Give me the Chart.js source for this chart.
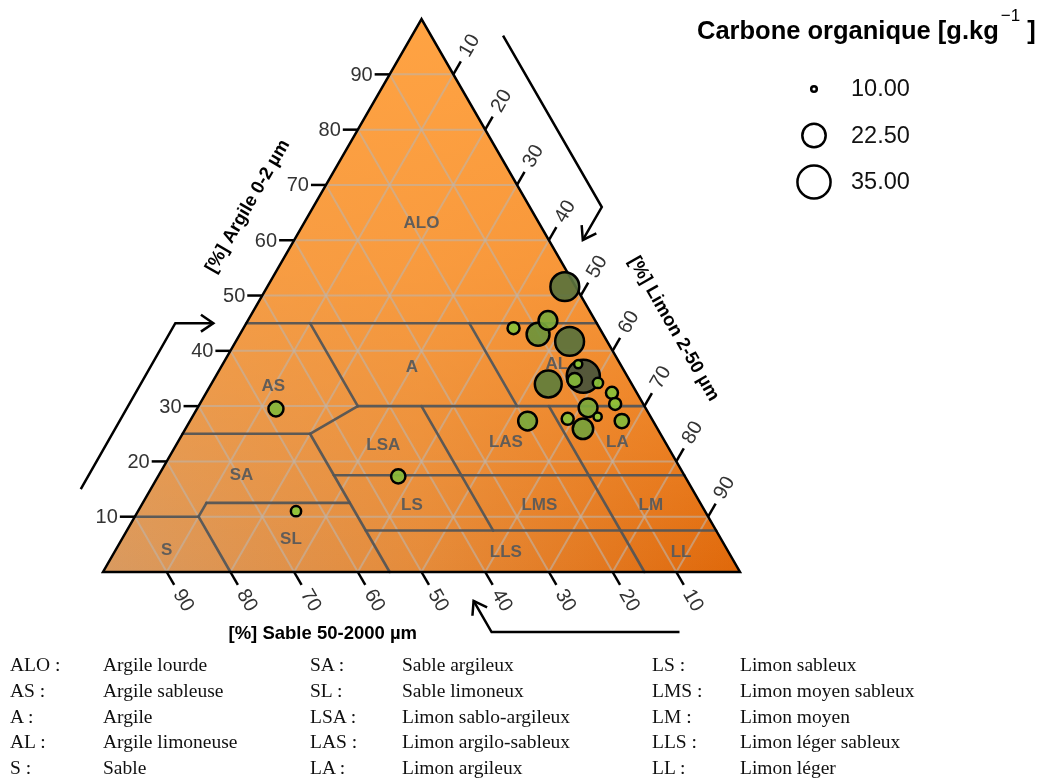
<!DOCTYPE html>
<html>
<head>
<meta charset="utf-8">
<script src="https://cdn.jsdelivr.net/npm/chart.js@4.4.1/dist/chart.umd.min.js"></script>
<style>
  body { margin: 0; background: #fff; }
  #wrap { position: absolute; left: 0; top: 0; width: 1057px; height: 650px; }
  #codes { position: absolute; left: 0; top: 0; width: 1057px; height: 781px; pointer-events: none;
           font-family: 'Liberation Serif', 'Times New Roman', serif; font-size: 19.5px; color: #111; }
  #codes span { position: absolute; white-space: nowrap; line-height: 1; transform: translateY(-50%); }
</style>
</head>
<body>
<div id="wrap"><canvas id="chart"></canvas></div>
<div id="codes"></div>
<script>
// ---- Data ----
const tickValues = [10, 20, 30, 40, 50, 60, 70, 80, 90];

// samples: clay % and silt % (sand is the remainder), organic carbon in g/kg
const sampleClay = [51.6, 44.1, 45.5, 43.0, 41.7, 37.6, 35.4, 34.0, 34.7, 34.2, 32.4, 30.4, 29.7, 27.7, 28.1, 27.3, 27.3, 25.9, 29.5, 17.3, 11.0];
const sampleSilt = [46.7, 42.4, 47.1, 46.8, 52.4, 55.8, 57.7, 52.9, 56.7, 60.6, 63.7, 65.2, 61.3, 59.1, 63.6, 67.8, 53.0, 62.4, 12.4, 37.7, 24.8];
const carbon     = [29, 13, 18, 22, 29, 11, 35, 26.5, 14.5, 12, 13, 13, 18, 13, 11, 14.5, 18, 19.5, 15, 14.5, 12];

const legendValues = [10, 22.5, 35];

// texture class boundaries, each as [clay, sand] -> [clay, sand]
const boundaries = [
  [45, 55, 45, 0], [30, 45, 30, 0], [25, 75, 25, 55], [25, 55, 30, 45], [45, 45, 30, 45],
  [45, 20, 30, 20], [17.5, 55, 17.5, 0], [30, 35, 7.5, 35], [30, 15, 0, 15], [7.5, 55, 7.5, 0],
  [25, 55, 0, 55], [12.5, 77.5, 12.5, 55], [10, 80, 12.5, 77.5], [10, 90, 10, 80], [10, 80, 0, 80]
];

// class labels inside the triangle (clay %, silt %)
const classCodes = ['ALO', 'A', 'AL', 'AS', 'LSA', 'LAS', 'LA', 'SA', 'LS', 'LMS', 'LM', 'S', 'SL', 'LLS', 'LL'];
const classClay  = [63, 37, 37.5, 33.5, 23, 23.5, 23.5, 17.5, 12, 12, 12, 4, 6, 3.5, 3.5];
const classSilt  = [18.5, 30, 52.5, 10, 32.5, 51.5, 69, 13, 42.5, 62.5, 80, 8, 26.5, 61.5, 89];

// key table under the chart
const keyCodes = ['ALO', 'AS', 'A', 'AL', 'S', 'SA', 'SL', 'LSA', 'LAS', 'LA', 'LS', 'LMS', 'LM', 'LLS', 'LL'];
const keyNames = ['Argile lourde', 'Argile sableuse', 'Argile', 'Argile limoneuse', 'Sable',
  'Sable argileux', 'Sable limoneux', 'Limon sablo-argileux', 'Limon argilo-sableux', 'Limon argileux',
  'Limon sableux', 'Limon moyen sableux', 'Limon moyen', 'Limon léger sableux', 'Limon léger'];

// ---- Helpers ----
const outerRadius = v => Math.sqrt(16 + (v - 10) / 25 * 300);
const light = [146, 208, 58], dark = [72, 84, 60];
const fillFor = v => {
  const t = Math.max(0, Math.min(1, (v - 10) / 25));
  const c = light.map((l, i) => Math.round(l + (dark[i] - l) * t));
  return `rgba(${c[0]},${c[1]},${c[2]},0.92)`;
};

const points = sampleClay.map((clay, i) => ({
  x: sampleSilt[i] + clay / 2,
  y: clay,
  r: outerRadius(carbon[i]) - 1.2,
  v: carbon[i]
})).sort((a, b) => b.v - a.v);

// ---- Key table ----
const keyEl = document.getElementById('codes');
const colCode = [10, 310, 652], colName = [103, 402, 740];
keyCodes.forEach((code, i) => {
  const col = Math.floor(i / 5), row = i % 5;
  const top = 665 + row * 25.8;
  const a = document.createElement('span');
  a.textContent = code + ' :';
  a.style.left = colCode[col] + 'px'; a.style.top = top + 'px';
  const b = document.createElement('span');
  b.textContent = keyNames[i];
  b.style.left = colName[col] + 'px'; b.style.top = top + 'px';
  keyEl.appendChild(a); keyEl.appendChild(b);
});

// ---- Triangle drawing ----
const sansFont = "'Liberation Sans', Arial, sans-serif";

function arrow(ctx, pts) {
  ctx.beginPath();
  ctx.moveTo(pts[0][0], pts[0][1]);
  pts.slice(1).forEach(p => ctx.lineTo(p[0], p[1]));
  ctx.stroke();
  const [a, b] = pts.slice(-2);
  const ang = Math.atan2(b[1] - a[1], b[0] - a[0]);
  const h = 15;
  ctx.beginPath();
  ctx.moveTo(b[0] - h * Math.cos(ang - 0.6), b[1] - h * Math.sin(ang - 0.6));
  ctx.lineTo(b[0], b[1]);
  ctx.lineTo(b[0] - h * Math.cos(ang + 0.6), b[1] - h * Math.sin(ang + 0.6));
  ctx.stroke();
}

const triangle = {
  id: 'triangle',
  beforeDatasetsDraw(chart) {
    const { ctx, scales: { x, y } } = chart;
    // ternary (clay, sand) -> pixel
    const P = (clay, sand) => [x.getPixelForValue(100 - sand - clay / 2), y.getPixelForValue(clay)];
    const apex = P(100, 0), left = P(0, 100), right = P(0, 0);
    const line = (a, b) => { ctx.beginPath(); ctx.moveTo(a[0], a[1]); ctx.lineTo(b[0], b[1]); ctx.stroke(); };
    const tri = () => { ctx.beginPath(); ctx.moveTo(...apex); ctx.lineTo(...left); ctx.lineTo(...right); ctx.closePath(); };

    ctx.save();
    // background
    const hg = ctx.createLinearGradient(left[0], 0, right[0], 0);
    hg.addColorStop(0, '#d99a60');
    hg.addColorStop(0.5, '#e58b3a');
    hg.addColorStop(1, '#e0680a');
    tri(); ctx.fillStyle = hg; ctx.fill();
    const vg = ctx.createLinearGradient(0, apex[1], 0, left[1]);
    vg.addColorStop(0, 'rgba(255,163,67,1)');
    vg.addColorStop(0.45, 'rgba(255,160,64,0.75)');
    vg.addColorStop(1, 'rgba(255,160,64,0)');
    tri(); ctx.fillStyle = vg; ctx.fill();

    // grid
    ctx.strokeStyle = 'rgba(190,180,170,0.6)';
    ctx.lineWidth = 2;
    tickValues.forEach(t => {
      line(P(t, 100 - t), P(t, 0));          // constant clay
      line(P(0, t), P(100 - t, t));          // constant sand
      line(P(0, 100 - t), P(100 - t, 0));    // constant silt
    });

    // class boundaries
    ctx.strokeStyle = 'rgba(85,85,85,0.95)';
    ctx.lineWidth = 2.6;
    ctx.lineCap = 'round';
    boundaries.forEach(b => line(P(b[0], b[1]), P(b[2], b[3])));
    ctx.lineCap = 'butt';

    // class labels
    ctx.fillStyle = 'rgba(90,90,90,0.95)';
    ctx.font = `bold 17px ${sansFont}`;
    ctx.textAlign = 'center';
    ctx.textBaseline = 'middle';
    classCodes.forEach((c, i) => {
      const px = x.getPixelForValue(classSilt[i] + classClay[i] / 2);
      const py = y.getPixelForValue(classClay[i]);
      ctx.fillText(c, px, py);
    });

    // border
    ctx.strokeStyle = '#000';
    ctx.lineWidth = 2.5;
    ctx.lineJoin = 'miter';
    tri(); ctx.stroke();

    // ticks + labels
    const L = Math.hypot(apex[0] - left[0], apex[1] - left[1]);
    const up = [(apex[0] - left[0]) / L, (apex[1] - left[1]) / L];     // along left edge
    const down = [(right[0] - apex[0]) / L, (right[1] - apex[1]) / L]; // along right edge
    ctx.lineWidth = 2.5;
    ctx.fillStyle = '#333';
    ctx.font = `20px ${sansFont}`;
    tickValues.forEach(t => {
      // clay (left)
      const a = P(t, 100 - t);
      line(a, [a[0] - 15, a[1]]);
      ctx.textAlign = 'right';
      ctx.fillText(String(t), a[0] - 17, a[1] + 1);
      // silt (right)
      const b = P(100 - t, 0);
      line(b, [b[0] + up[0] * 15, b[1] + up[1] * 15]);
      ctx.save();
      ctx.translate(b[0] + up[0] * 33, b[1] + up[1] * 33);
      ctx.rotate(-Math.PI / 3);
      ctx.textAlign = 'center';
      ctx.fillText(String(t), 0, 0);
      ctx.restore();
      // sand (bottom)
      const c = P(0, t);
      line(c, [c[0] + down[0] * 15, c[1] + down[1] * 15]);
      ctx.save();
      ctx.translate(c[0] + down[0] * 33, c[1] + down[1] * 33);
      ctx.rotate(Math.PI / 3);
      ctx.textAlign = 'center';
      ctx.fillText(String(t), 0, 0);
      ctx.restore();
    });

    // axis titles
    ctx.fillStyle = '#000';
    ctx.font = `bold 18.5px ${sansFont}`;
    ctx.textAlign = 'center';
    const nL = [-up[1], up[0]];            // inward normal of left edge
    const nR = [-down[1], down[0]];        // inward normal of right edge
    let e = P(61, 39);
    ctx.save();
    ctx.translate(e[0] - nL[0] * 57, e[1] - nL[1] * 57);
    ctx.rotate(-Math.PI / 3);
    ctx.fillText('[%] Argile 0-2 µm', 0, 0);
    ctx.restore();
    e = P(38.2, 0);
    ctx.save();
    ctx.translate(e[0] - nR[0] * 64, e[1] - nR[1] * 64);
    ctx.rotate(Math.PI / 3);
    ctx.fillText('[%] Limon 2-50 µm', 0, 0);
    ctx.restore();
    e = P(0, 65.5);
    ctx.fillText('[%] Sable 50-2000 µm', e[0], e[1] + 62);

    // direction arrows
    ctx.strokeStyle = '#000';
    ctx.lineWidth = 2.5;
    const l1 = P(15, 85), l2 = P(45, 55);
    arrow(ctx, [[l1[0] - 70, l1[1]], [l2[0] - 71, l2[1]], [l2[0] - 33, l2[1]]]);
    const r1 = P(97, 0), r2 = P(66, 0);
    const rb = [r2[0] + 72, r2[1]];
    arrow(ctx, [[r1[0] + 72, r1[1]], rb, [rb[0] - up[0] * 38, rb[1] - up[1] * 38]]);
    const b1 = P(0, 9.5), b2 = P(0, 39);
    const bb = [b2[0], b2[1] + 60];
    arrow(ctx, [[b1[0], b1[1] + 60], bb, [bb[0] - down[0] * 36, bb[1] - down[1] * 36]]);

    // size legend
    ctx.fillStyle = '#000';
    ctx.font = `bold 25.5px ${sansFont}`;
    ctx.textAlign = 'left';
    ctx.textBaseline = 'alphabetic';
    const t1 = 'Carbone organique [g.kg';
    ctx.fillText(t1, 697, 39);
    const w1 = ctx.measureText(t1).width;
    ctx.font = `17px ${sansFont}`;
    ctx.fillText('\u22121', 697 + w1 + 2, 21);
    const w2 = ctx.measureText('\u22121').width;
    ctx.font = `bold 25.5px ${sansFont}`;
    ctx.fillText(' ]', 697 + w1 + w2 + 2, 39);

    ctx.font = `23.5px ${sansFont}`;
    ctx.textBaseline = 'middle';
    legendValues.forEach((v, i) => {
      const cy = 89 + i * 46.5;
      ctx.beginPath();
      ctx.arc(814, cy, outerRadius(v) - 1.2, 0, Math.PI * 2);
      ctx.fillStyle = '#fff';
      ctx.fill();
      ctx.lineWidth = 2.5;
      ctx.strokeStyle = '#000';
      ctx.stroke();
      ctx.fillStyle = '#111';
      ctx.fillText(v.toFixed(2), 851, cy + 1);
    });
    ctx.restore();
  }
};

new Chart(document.getElementById('chart'), {
  type: 'bubble',
  data: {
    datasets: [{
      data: points,
      backgroundColor: c => fillFor(c.raw.v),
      borderColor: '#000',
      borderWidth: 2.5,
      hoverRadius: 0,
      clip: false
    }]
  },
  options: {
    responsive: true,
    maintainAspectRatio: false,
    animation: false,
    layout: { padding: { left: 103, right: 317, top: 16, bottom: 78 } },
    plugins: { legend: { display: false }, tooltip: { enabled: false } },
    scales: {
      x: { type: 'linear', min: 0, max: 100, display: false },
      y: { type: 'linear', min: 0, max: 100, display: false }
    }
  },
  plugins: [triangle]
});
</script>
</body>
</html>
